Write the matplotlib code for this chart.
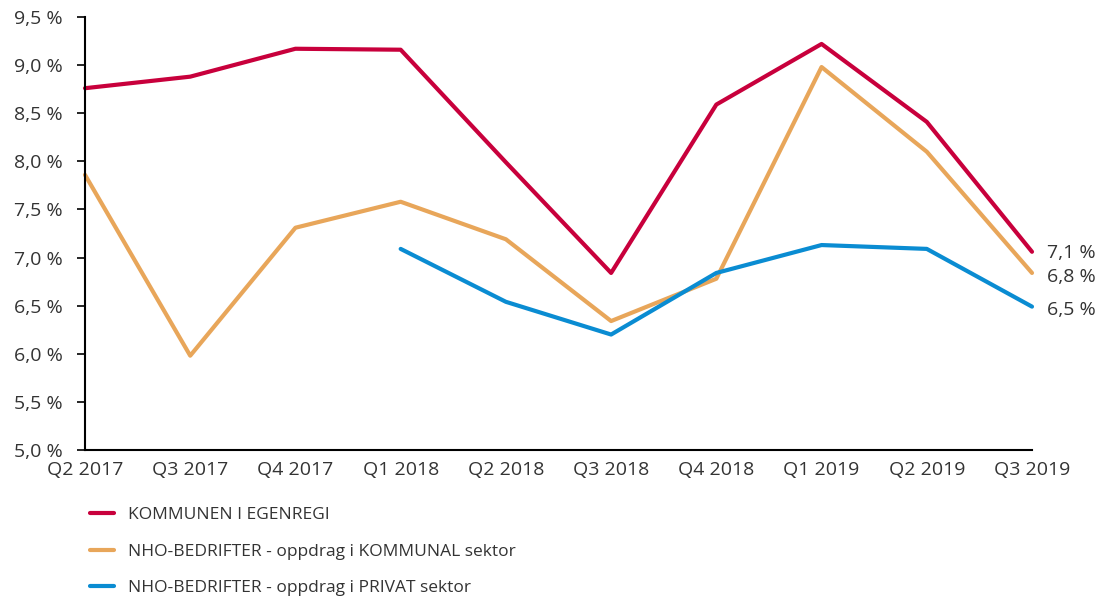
import matplotlib
matplotlib.use('Agg')
import matplotlib.pyplot as plt
from matplotlib.ticker import FuncFormatter

plt.rcParams['font.family'] = ['Open Sans', 'DejaVu Sans']

quarters = ['Q2 2017', 'Q3 2017', 'Q4 2017', 'Q1 2018', 'Q2 2018',
            'Q3 2018', 'Q4 2018', 'Q1 2019', 'Q2 2019', 'Q3 2019']

kommunen = [8.76, 8.88, 9.17, 9.16, 7.99, 6.84, 8.59, 9.22, 8.41, 7.06]
nho_kommunal = [7.86, 5.98, 7.31, 7.58, 7.19, 6.34, 6.78, 8.98, 8.10, 6.84]
nho_privat = [None, None, None, 7.09, 6.54, 6.20, 6.84, 7.13, 7.09, 6.49]

labels = ['KOMMUNEN I EGENREGI',
          'NHO-BEDRIFTER - oppdrag i KOMMUNAL sektor',
          'NHO-BEDRIFTER - oppdrag i PRIVAT sektor']
colors = ['#C8003C', '#E8A65A', '#0A8CD2']
end_labels = ['7,1 %', '6,8 %', '6,5 %']

fig = plt.figure(figsize=(11, 5.98), dpi=100)
ax = fig.add_axes([85/1100, 1 - 450/598, 947/1100, 433/598])

x = list(range(len(quarters)))
series = [kommunen, nho_kommunal, nho_privat]
for vals, col, lab in zip(series, colors, labels):
    xs = [i for i, v in zip(x, vals) if v is not None]
    ys = [v for v in vals if v is not None]
    ax.plot(xs, ys, color=col, lw=3, label=lab, solid_capstyle='round',
            solid_joinstyle='round', clip_on=False)

# end labels, nudged so they don't collide
offsets = [-0.01, -0.04, -0.035]
for vals, txt, off in zip(series, end_labels, offsets):
    ax.text(9.14, vals[-1] + off, txt, fontsize=14, color='#333333',
            va='center', ha='left', clip_on=False)

ax.set_xlim(0, 9)
ax.set_ylim(5.0, 9.5)
ax.set_yticks([5.0 + 0.5 * i for i in range(10)])
ax.yaxis.set_major_formatter(FuncFormatter(lambda v, p: f'{v:.1f} %'.replace('.', ',')))
ax.set_xticks(x)
ax.set_xticklabels(quarters)

for s in ['top', 'right']:
    ax.spines[s].set_visible(False)
ax.spines['left'].set_linewidth(1.5)
ax.spines['bottom'].set_linewidth(1.5)
ax.tick_params(axis='y', length=6, width=1.2, labelsize=14, labelcolor='#333333', pad=10)
ax.tick_params(axis='x', length=0, labelsize=14, labelcolor='#333333', pad=8)

fig.legend(loc='upper left', bbox_to_anchor=(90/1100, 1 - 507/598), frameon=False,
           borderpad=0, borderaxespad=0,
           fontsize=12.5, handlelength=1.4, handletextpad=0.8, labelspacing=1.18,
           labelcolor='#333333')

fig.savefig('out.png', dpi=100)
